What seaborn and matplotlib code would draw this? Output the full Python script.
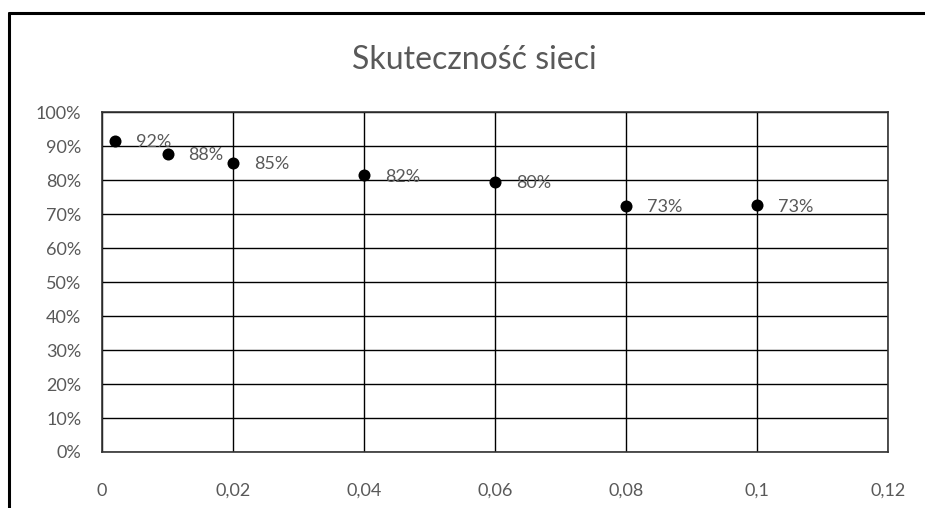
import numpy as np
import pandas as pd
import matplotlib
matplotlib.use("Agg")
import matplotlib.pyplot as plt
from matplotlib.ticker import FuncFormatter, MultipleLocator
from matplotlib.lines import Line2D
import seaborn as sns

# --- DATA ---
learning_rate = [0.002, 0.01, 0.02, 0.04, 0.06, 0.08, 0.1]
accuracy = [0.916, 0.879, 0.852, 0.815, 0.795, 0.726, 0.727]
title = "Skuteczność sieci"

df = pd.DataFrame({"x": learning_rate, "y": accuracy})

sns.set_style("white")
plt.rcParams["font.family"] = ["Lato", "DejaVu Sans"]
GRAY = "#595959"

fig = plt.figure(figsize=(9.25, 5.08), dpi=100)
ax = fig.add_axes([102 / 925, 1 - 452 / 508, (888 - 102) / 925, (452 - 112.5) / 508])

sns.scatterplot(data=df, x="x", y="y", ax=ax, color="black", s=75,
                edgecolor="black", linewidth=0, zorder=3)

# etykiety danych
for xv, yv in zip(learning_rate, accuracy):
    ax.annotate(f"{round(yv * 100)}%", (xv, yv), xytext=(15, -1),
                textcoords="offset points", va="center", ha="left",
                fontsize=13, color=GRAY, zorder=4)

ax.set_xlim(0, 0.12)
ax.set_ylim(0, 1.0)
ax.xaxis.set_major_locator(MultipleLocator(0.02))
ax.yaxis.set_major_locator(MultipleLocator(0.1))
ax.xaxis.set_major_formatter(FuncFormatter(lambda v, p: f"{round(v, 2):g}".replace(".", ",")))
ax.yaxis.set_major_formatter(FuncFormatter(lambda v, p: f"{round(v * 100)}%"))

ax.grid(True, color="black", linewidth=1.0)
ax.set_axisbelow(True)
for s in ax.spines.values():
    s.set_color("#333333")
    s.set_linewidth(1.2)

ax.tick_params(axis="x", length=0, pad=22, labelsize=13, labelcolor=GRAY)
ax.tick_params(axis="y", length=0, pad=15, labelsize=13, labelcolor=GRAY)
ax.set_xlabel("")
ax.set_ylabel("")

fig.text(474 / 925, 1 - 60 / 508, title, ha="center", va="center",
         fontsize=23, color=GRAY)

# ramka wykresu (góra i lewa strona)
fig.add_artist(Line2D([9 / 925, 1.0], [1 - 13 / 508, 1 - 13 / 508],
                      transform=fig.transFigure, color="black", linewidth=2.2))
fig.add_artist(Line2D([9 / 925, 9 / 925], [0.0, 1 - 13 / 508],
                      transform=fig.transFigure, color="black", linewidth=2.2))

fig.savefig("out.png", dpi=100)
